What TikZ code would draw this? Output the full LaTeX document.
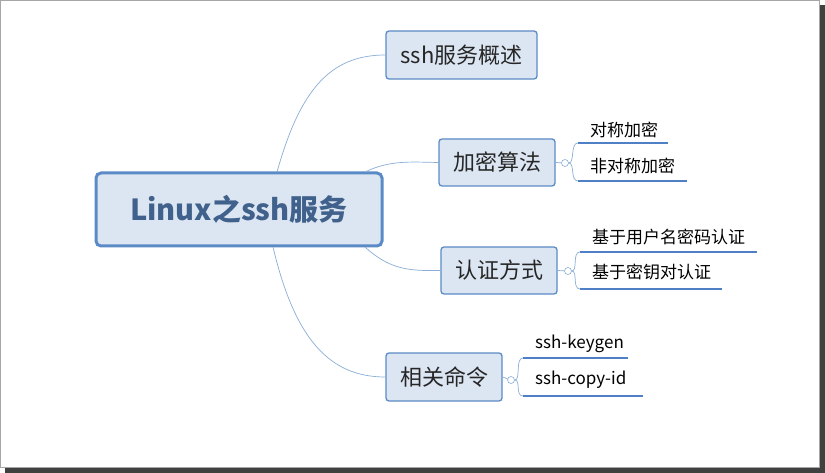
\documentclass[tikz,border=0pt]{standalone}
\usepackage{fontspec}
\setmainfont{Noto Sans CJK SC}
\begin{document}
\begin{tikzpicture}[x=1pt,y=-1pt,
  topic/.style={draw=boxblue,line width=1.3pt,fill=boxfill,rounded corners=3pt,inner sep=0pt,font=\fontsize{22}{25}\selectfont,text=black!85},
  leaf/.style={inner sep=0pt,font=\fontsize{17}{19}\selectfont,text=black,anchor=west},
  uline/.style={draw=lineblue,line width=2.2pt},
  conn/.style={draw=connblue,line width=0.7pt},
  knob/.style={circle,draw=connblue,fill=white,line width=0.6pt,minimum size=7pt,inner sep=0pt}]
\definecolor{boxblue}{HTML}{5B8BC6}
\definecolor{boxfill}{HTML}{DCE6F2}
\definecolor{lineblue}{HTML}{4F7FC4}
\definecolor{connblue}{HTML}{8AAED6}
\useasboundingbox (0,0) rectangle (825,473);
\fill[black!75] (5,5) rectangle (825,473);
\fill[white] (0,0) rectangle (819,467);
\draw[black!35,line width=0.6pt] (0.5,0.5) rectangle (819,467);
% central
\node[draw=boxblue,line width=3pt,fill=boxfill,rounded corners=5pt,minimum width=286pt,minimum height=73pt,inner sep=0pt,font=\fontsize{29}{32}\selectfont\bfseries,text=boxblue!70!black] (c) at (239,209.5) {Linux之ssh服务};
\node[topic,minimum width=151pt,minimum height=48pt] (t1) at (461.5,55) {ssh服务概述};
\node[topic,minimum width=116pt,minimum height=47pt] (t2) at (497,162.5) {加密算法};
\node[topic,minimum width=116pt,minimum height=47pt] (t3) at (499,270.5) {认证方式};
\node[topic,minimum width=116pt,minimum height=48pt] (t4) at (444,377) {相关命令};
\coordinate (a1) at (277,172);
\coordinate (a2) at (365,172);
\coordinate (a3) at (365,247);
\coordinate (a4) at (273,247);
\draw[conn] (a1) .. controls (300,90) and (330,55) .. (t1.west);
\draw[conn] (a2) .. controls (390,160) and (410,162) .. (t2.west);
\draw[conn] (a3) .. controls (390,270) and (410,271) .. (t3.west);
\draw[conn] (a4) .. controls (295,340) and (330,377) .. (t4.west);
% knobs
\node[knob] (k2) at (565,163) {};
\node[knob] (k3) at (568,271) {};
\node[knob] (k4) at (511,380) {};
\draw[conn] (t2.east) -- (k2); \draw[conn] (t3.east) -- (k3); \draw[conn] (t4.east) -- (k4);
% leaves
\node[leaf] (l1) at (590,130) {对称加密};
\node[leaf] (l2) at (590,166) {非对称加密};
\node[leaf] (l3) at (592,237) {基于用户名密码认证};
\node[leaf] (l4) at (592,272) {基于密钥对认证};
\node[leaf] (l5) at (535,344) {ssh-keygen};
\node[leaf] (l6) at (535,380) {ssh-copy-id};
\coordinate (u1) at (578,143); \coordinate (v1) at (668,143);
\coordinate (u2) at (578,181); \coordinate (v2) at (687,181);
\coordinate (u3) at (580,252); \coordinate (v3) at (757,252);
\coordinate (u4) at (580,289); \coordinate (v4) at (722,289);
\coordinate (u5) at (523,358); \coordinate (v5) at (628,358);
\coordinate (u6) at (523,396); \coordinate (v6) at (643,396);
\foreach \i in {1,...,6} \draw[uline] (u\i) -- (v\i);
\draw[conn] (k2.east) .. controls (575,163) and (570,143) .. (u1);
\draw[conn] (k2.east) .. controls (575,163) and (570,181) .. (u2);
\draw[conn] (k3.east) .. controls (578,271) and (572,252) .. (u3);
\draw[conn] (k3.east) .. controls (578,271) and (572,289) .. (u4);
\draw[conn] (k4.east) .. controls (521,380) and (515,358) .. (u5);
\draw[conn] (k4.east) .. controls (521,380) and (515,396) .. (u6);
\end{tikzpicture}
\end{document}
